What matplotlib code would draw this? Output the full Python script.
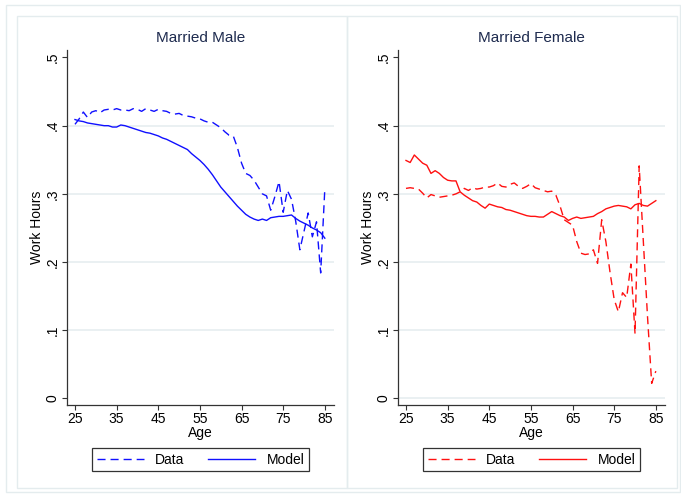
import numpy as np
import matplotlib.pyplot as plt
from matplotlib.patches import Rectangle

plt.rcParams['font.family'] = ['Liberation Sans', 'DejaVu Sans']

ages = list(range(25, 86))

male_data = [0.402, 0.410, 0.420, 0.412, 0.420, 0.422, 0.419, 0.423, 0.424, 0.423,
             0.425, 0.423, 0.423, 0.422, 0.425, 0.424, 0.421, 0.425, 0.423, 0.421,
             0.424, 0.422, 0.421, 0.418, 0.417, 0.418, 0.415, 0.414, 0.413, 0.411,
             0.410, 0.407, 0.405, 0.405, 0.401, 0.397, 0.391, 0.386, 0.385, 0.368,
             0.345, 0.330, 0.327, 0.320, 0.310, 0.300, 0.297, 0.276, 0.296, 0.318,
             0.273, 0.305, 0.292, 0.260, 0.218, 0.245, 0.272, 0.237, 0.259, 0.184,
             0.308]
male_model = [0.409, 0.407, 0.406, 0.404, 0.403, 0.402, 0.401, 0.400, 0.400, 0.398,
              0.398, 0.401, 0.400, 0.398, 0.396, 0.394, 0.392, 0.390, 0.389, 0.387,
              0.385, 0.382, 0.380, 0.377, 0.374, 0.371, 0.368, 0.365, 0.359, 0.354,
              0.349, 0.343, 0.336, 0.328, 0.319, 0.310, 0.303, 0.296, 0.289, 0.282,
              0.276, 0.270, 0.266, 0.263, 0.261, 0.263, 0.261, 0.265, 0.266, 0.267,
              0.267, 0.268, 0.269, 0.264, 0.260, 0.257, 0.254, 0.250, 0.247, 0.243,
              0.235]

female_data = [0.308, 0.309, 0.308, 0.307, 0.301, 0.294, 0.299, 0.297, 0.295, 0.296,
               0.297, 0.298, 0.300, 0.303, 0.308, 0.305, 0.309, 0.307, 0.308, 0.310,
               0.310, 0.312, 0.316, 0.311, 0.310, 0.314, 0.316, 0.311, 0.308, 0.311,
               0.315, 0.309, 0.307, 0.305, 0.303, 0.304, 0.298, 0.282, 0.262, 0.258,
               0.254, 0.230, 0.213, 0.211, 0.212, 0.218, 0.198, 0.262, 0.230, 0.185,
               0.145, 0.127, 0.155, 0.148, 0.197, 0.095, 0.341, 0.230, 0.120, 0.022,
               0.040]
female_model = [0.349, 0.346, 0.357, 0.351, 0.345, 0.342, 0.330, 0.334, 0.330, 0.324,
                0.320, 0.319, 0.319, 0.303, 0.298, 0.294, 0.290, 0.288, 0.283, 0.279,
                0.285, 0.283, 0.281, 0.280, 0.277, 0.276, 0.274, 0.272, 0.270, 0.268,
                0.267, 0.267, 0.266, 0.266, 0.270, 0.274, 0.271, 0.268, 0.266, 0.261,
                0.264, 0.266, 0.264, 0.265, 0.266, 0.267, 0.271, 0.274, 0.278, 0.280,
                0.282, 0.283, 0.282, 0.281, 0.278, 0.284, 0.286, 0.283, 0.282, 0.286,
                0.290]

xticks = [25, 35, 45, 55, 65, 75, 85]
yticks = [0, 0.1, 0.2, 0.3, 0.4, 0.5]
ylabels = ['0', '.1', '.2', '.3', '.4', '.5']

panels = [
    ('Married Male', male_data, male_model, '#1010ff', 67, False),
    ('Married Female', female_data, female_model, '#ff1010', 398, True),
]

W, H = 681, 498
fig = plt.figure(figsize=(W / 100, H / 100), dpi=100)

frame_col = '#e4ecee'
fig.patches.append(Rectangle((6 / W, 1 - 492 / H), 674 / W, 487 / H, transform=fig.transFigure,
                             fill=False, edgecolor=frame_col, lw=1))
fig.patches.append(Rectangle((17 / W, 1 - 488 / H), 330 / W, 472 / H, transform=fig.transFigure,
                             fill=False, edgecolor=frame_col, lw=1))
fig.patches.append(Rectangle((347 / W, 1 - 488 / H), 330 / W, 472 / H, transform=fig.transFigure,
                             fill=False, edgecolor=frame_col, lw=1))

for title, data, model, col, left_px, zero_grid in panels:
    ax = fig.add_axes([left_px / W, 1 - 405 / H, 267 / W, 355 / H])
    ax.set_xlim(23.08, 87.2)
    ax.set_ylim(-0.0097, 0.511)
    grid_levels = [0.1, 0.2, 0.3, 0.4] + ([0] if zero_grid else [])
    for g in grid_levels:
        ax.axhline(g, color='#e6eef0', lw=1.2, zorder=0)
    ax.plot(ages, data, color=col, lw=1.0, dashes=(5.8, 3.6), label='Data')
    ax.plot(ages, model, color=col, lw=1.0, label='Model')
    for s in ['top', 'right']:
        ax.spines[s].set_visible(False)
    for s in ['left', 'bottom']:
        ax.spines[s].set_color('#333333')
        ax.spines[s].set_linewidth(0.9)
    ax.set_xticks(xticks)
    ax.set_yticks(yticks)
    ax.set_yticklabels(ylabels, rotation=90, va='center')
    ax.tick_params(direction='out', length=3.6, width=0.8, labelsize=10, color='#333333')
    ax.tick_params(axis='y', pad=1.5)
    ax.tick_params(axis='x', pad=1.5)
    ax.set_title(title, fontsize=11, color='#1e2b4f', pad=5.5)
    ax.set_xlabel('Age', fontsize=10, labelpad=0)
    ax.set_ylabel('Work Hours', fontsize=10, labelpad=1.5)
    cx = (left_px + 133.5) / W
    leg = ax.legend(loc='center', bbox_to_anchor=(cx, 0.0773), bbox_transform=fig.transFigure,
                    ncol=2, frameon=True, fancybox=False, edgecolor='black', fontsize=10,
                    handlelength=3.4, handletextpad=0.8, columnspacing=1.7, borderpad=0.35,
                    borderaxespad=0)
    leg.get_frame().set_linewidth(0.9)

fig.savefig('out.png', dpi=100, facecolor='white')
